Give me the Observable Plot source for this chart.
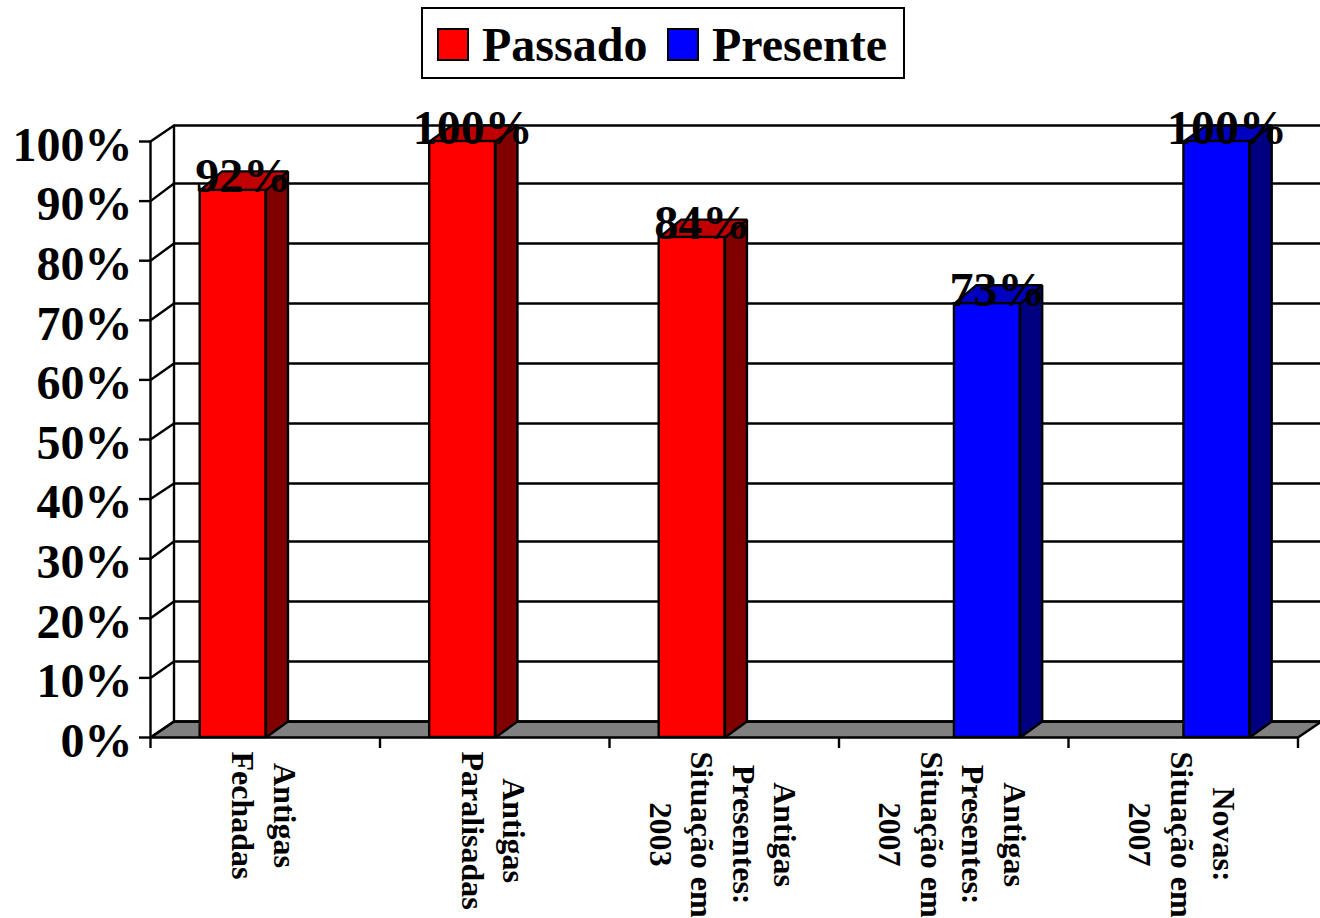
<!DOCTYPE html>
<html lang="pt">
<head>
<meta charset="utf-8">
<script src="https://cdn.jsdelivr.net/npm/d3@7"></script>
<script src="https://cdn.jsdelivr.net/npm/@observablehq/plot@0.6"></script>
<style>
  html, body { margin: 0; padding: 0; background: #fff; overflow: hidden; }
  body { width: 1320px; height: 918px; font-family: "Liberation Serif", "Times New Roman", serif; }
  #legend { position: relative; height: 85px; }
  #legend .box { position: absolute; left: 421px; top: 7px; width: 480px; height: 68px; border: 2px solid #000; }
  #legend .sw { position: absolute; top: 28px; width: 28px; height: 29px; border: 2px solid #000; }
  #legend .lab { position: absolute; top: 18px; font: bold 48px/54px "Liberation Serif", serif; color: #000; }
  svg { display: block; }
</style>
</head>
<body>
<div id="legend">
  <div class="box"></div>
  <div class="sw" style="left:437px;background:#ff0000"></div>
  <div class="lab" style="left:482px">Passado</div>
  <div class="sw" style="left:667px;background:#0000ff"></div>
  <div class="lab" style="left:712px">Presente</div>
</div>
<div id="chart"></div>
<script>
const categories = [
  ["Antigas", "Fechadas"],
  ["Antigas", "Paralisadas"],
  ["Antigas", "Presentes:", "Situação em", "2003"],
  ["Antigas", "Presentes:", "Situação em", "2007"],
  ["Novas:", "Situação em", "2007"]
];
const passado = [92, 100, 84, null, null];
const presente = [null, null, null, 73, 100];
// Height of the front face and of the rear edge
const passadoFront = [91.8, 100, 83.9, null, null];
const passadoBack = [92.3, 100, 84.2, null, null];
const presenteFront = [null, null, null, 72.8, 100];
const presenteBack = [null, null, null, 73.2, 100];
const yTicks = [0, 10, 20, 30, 40, 50, 60, 70, 80, 90, 100];
// Where each gridline meets the back wall
const wallGrid = [0, 10.07, 20.13, 30.2, 39.93, 50, 60.07, 70.13, 80.2, 90.27, 100];

const FONT = '"Liberation Serif", "Times New Roman", serif';
const LW = 2.4;
const wallDX = 0.1024, wallDY = 2.685;   // floor depth, in scale units
const barDX = 0.0959;
const barW = 0.2865;
const barShift = 0.003;
const n = categories.length;

const poly = (pts, fill) => Plot.line(pts, {
  x: "x", y: "y", fill, stroke: "#000", strokeWidth: LW,
  curve: "linear-closed", strokeLinejoin: "miter"
});

const floor = poly([
  {x: 0, y: 0}, {x: n, y: 0},
  {x: n + wallDX, y: wallDY}, {x: wallDX, y: wallDY}
], "#808080");

const wallLines = Plot.ruleX([wallDX], {y1: wallDY, y2: 100 + wallDY, stroke: "#000", strokeWidth: LW});
const backGrid = Plot.ruleY(wallGrid, {
  y: d => d + wallDY, x1: wallDX, x2: n + wallDX + 0.1, stroke: "#000", strokeWidth: LW
});
const sideGrid = yTicks.map((t, i) => Plot.line(
  [{x: 0, y: t}, {x: wallDX, y: wallGrid[i] + wallDY}],
  {x: "x", y: "y", stroke: "#000", strokeWidth: LW}
));

function bars(values, front, back, offset, colors) {
  const out = [];
  values.forEach((v, i) => {
    if (v == null) return;
    const x0 = i + 0.5 + offset + barShift, x1 = x0 + barW;
    const f = front[i], b = back[i] + wallDY;
    out.push(poly([
      {x: x1, y: 0}, {x: x1 + barDX, y: wallDY},
      {x: x1 + barDX, y: b}, {x: x1, y: f}
    ], colors.side));
    out.push(poly([
      {x: x0, y: f}, {x: x1, y: f},
      {x: x1 + barDX, y: b}, {x: x0 + barDX, y: b}
    ], colors.top));
    out.push(Plot.rect([{x0, x1, f}], {
      x1: "x0", x2: "x1", y1: 0, y2: "f",
      fill: colors.face, stroke: "#000", strokeWidth: LW
    }));
  });
  return out;
}

const redBars = bars(passado, passadoFront, passadoBack, -barW,
  {face: "#ff0000", side: "#800000", top: "#c00000"});
const blueBars = bars(presente, presenteFront, presenteBack, 0,
  {face: "#0000ff", side: "#000080", top: "#0000c0"});

const valueRows = [
  ...passado.map((v, i) => ({v, f: passadoFront[i], x: i + 0.5 - barW / 2 + 0.047})),
  ...presente.map((v, i) => ({v, f: presenteFront[i], x: i + 0.5 + barW / 2 + 0.047}))
].filter(d => d.v != null);

const valueLabels = Plot.text(valueRows, {
  x: "x", y: "f", text: d => d.v + "%",
  fontSize: 48, fontWeight: "bold", fontFamily: FONT,
  lineAnchor: "bottom", textAnchor: "middle", dy: 2, fill: "#000"
});

const ctx = document.createElement("canvas").getContext("2d");
ctx.font = `bold 32px ${FONT}`;
const catLabels = categories.map((lines, i) => {
  const longest = d3.max(lines, l => ctx.measureText(l).width);
  return Plot.text([lines.join("\n")], {
    x: [i + 0.5], y: [0], text: d => d,
    rotate: 90, fontSize: 32, fontWeight: "bold", fontFamily: FONT,
    lineHeight: 1.3, lineAnchor: "middle", textAnchor: "middle",
    dx: 1, dy: 14 + longest / 2, fill: "#000"
  });
});

const plot = Plot.plot({
  width: 1320,
  height: 833,
  marginLeft: 150,
  marginRight: 22.5,
  marginTop: 56,
  marginBottom: 181,
  x: {domain: [0, n], axis: null},
  y: {domain: [0, 100], axis: null},
  style: {fontFamily: FONT, background: "#fff", color: "#000", overflow: "visible"},
  marks: [
    floor,
    wallLines,
    backGrid,
    ...sideGrid,
    ...redBars,
    ...blueBars,
    Plot.ruleX([0], {y1: 0, y2: 100, stroke: "#000", strokeWidth: LW}),
    Plot.axisY({
      ticks: yTicks, tickFormat: () => "", label: null,
      tickSize: 11, strokeWidth: LW
    }),
    Plot.axisY({
      ticks: yTicks, tickFormat: d => d + "%", label: null,
      tickSize: 0, tickPadding: 18, dy: 4,
      fontSize: 48, fontWeight: "bold", fontFamily: FONT, fill: "#000"
    }),
    Plot.axisX({
      ticks: d3.range(n + 1), tickFormat: () => "", label: null,
      tickSize: 11, strokeWidth: LW
    }),
    valueLabels,
    ...catLabels
  ]
});
document.getElementById("chart").appendChild(plot);
</script>
</body>
</html>
